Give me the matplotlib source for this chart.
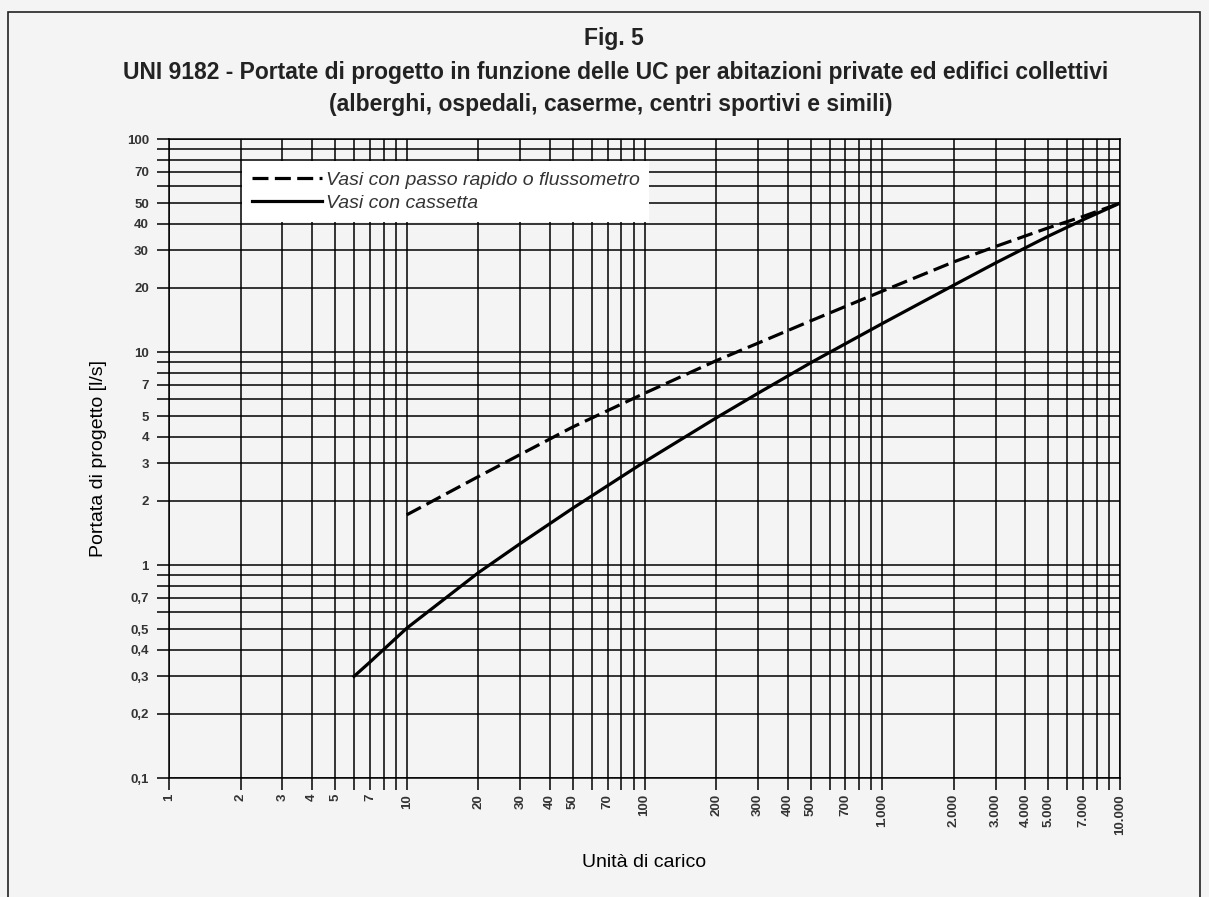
import matplotlib
matplotlib.use("Agg")
import matplotlib.pyplot as plt
from matplotlib.patches import Rectangle

plt.rcParams['font.family'] = ['Liberation Sans', 'DejaVu Sans']

# Unità di carico vs portata [l/s]
uc_flux = [10, 20, 30, 50, 100, 200, 300, 500, 1000, 2000, 3000, 5000, 7000, 10000]
q_flux = [1.72, 2.6, 3.3, 4.45, 6.4, 9.1, 11.0, 14.0, 19.3, 26.5, 31.3, 38.3, 43.3, 50]

uc_cass = [6, 7, 10, 20, 30, 50, 100, 200, 300, 500, 1000, 2000, 3000, 5000, 7000, 10000]
q_cass = [0.3, 0.35, 0.505, 0.92, 1.26, 1.85, 3.05, 4.9, 6.4, 8.9, 13.6, 20.6, 26.2, 35, 41.8, 50]

# grid positions and tick labels
x_grid = [m * 10 ** e for e in range(4) for m in range(1, 10)] + [10000]
x_labeled = {1: '1', 2: '2', 3: '3', 4: '4', 5: '5', 7: '7', 10: '10', 20: '20', 30: '30',
             40: '40', 50: '50', 70: '70', 100: '100', 200: '200', 300: '300', 400: '400',
             500: '500', 700: '700', 1000: '1.000', 2000: '2.000', 3000: '3.000',
             4000: '4.000', 5000: '5.000', 7000: '7.000', 10000: '10.000'}
y_grid = [round(m * 10.0 ** e, 3) for e in range(-1, 2) for m in range(1, 10)] + [100]
y_labeled = {0.1: '0,1', 0.2: '0,2', 0.3: '0,3', 0.4: '0,4', 0.5: '0,5', 0.7: '0,7',
             1: '1', 2: '2', 3: '3', 4: '4', 5: '5', 7: '7', 10: '10', 20: '20',
             30: '30', 40: '40', 50: '50', 70: '70', 100: '100'}

bg = '#f4f4f4'
fig = plt.figure(figsize=(12.09, 8.97), dpi=100, facecolor=bg)
ax = fig.add_axes([169 / 1209, 1 - 778 / 897, 951 / 1209, 639 / 897])
ax.set_facecolor(bg)

# figure frame (bottom edge is off the page)
fig.patches.append(Rectangle((8 / 1209, -0.05), 1192 / 1209, 1.05 - 12 / 897,
                             transform=fig.transFigure, fill=False,
                             edgecolor='#222222', lw=1.2))

ax.set_xscale('log')
ax.set_yscale('log')
ax.set_xlim(1, 10000)
ax.set_ylim(0.1, 100)

ax.set_xticks(x_grid)
ax.set_xticklabels([x_labeled.get(v, '') for v in x_grid], rotation=90)
ax.set_yticks(y_grid)
ax.set_yticklabels([y_labeled.get(int(v) if v >= 1 else v, '') for v in y_grid])
ax.minorticks_off()
ax.tick_params(axis='both', direction='out', length=8.5, width=1.1, color='black',
               labelsize=9.5, labelcolor='#333333')
ax.tick_params(axis='x', pad=3)
ax.tick_params(axis='y', pad=6)
for lab in ax.get_xticklabels() + ax.get_yticklabels():
    lab.set_fontweight('bold')

ax.grid(True, which='major', color='black', lw=1.1)
for sp in ax.spines.values():
    sp.set_linewidth(1.1)
    sp.set_color('black')

ax.plot(uc_flux, q_flux, color='black', lw=2.3, linestyle=(0, (5, 2)),
        label='Vasi con passo rapido o flussometro', zorder=3)
ax.plot(uc_cass, q_cass, color='black', lw=2.3,
        label='Vasi con cassetta', zorder=3)

leg = ax.legend(loc='upper left', bbox_to_anchor=(0.077, 0.965), fontsize=14,
                handlelength=3.6, handletextpad=0.2, borderpad=0.5,
                labelspacing=0.3, borderaxespad=0, fancybox=False, framealpha=1)
leg.get_frame().set_facecolor('white')
leg.get_frame().set_edgecolor('none')
for t in leg.get_texts():
    t.set_fontstyle('italic')
    t.set_color('#333333')

ax.set_ylabel('Portata di progetto [l/s]', fontsize=14, labelpad=14)
ax.set_xlabel('Unità di carico', fontsize=14, labelpad=14)

fig.text(0.508, 1 - 38 / 897, 'Fig. 5', ha='center', va='center',
         fontsize=16.5, fontweight='bold', color='#222222')
fig.text(0.509, 1 - 73 / 897,
         'UNI 9182 - Portate di progetto in funzione delle UC per abitazioni private ed edifici collettivi',
         ha='center', va='center', fontsize=16.5, fontweight='bold', color='#222222')
fig.text(0.505, 1 - 104 / 897, '(alberghi, ospedali, caserme, centri sportivi e simili)',
         ha='center', va='center', fontsize=16.5, fontweight='bold', color='#222222')

fig.savefig('out.png', dpi=100, facecolor=bg)
